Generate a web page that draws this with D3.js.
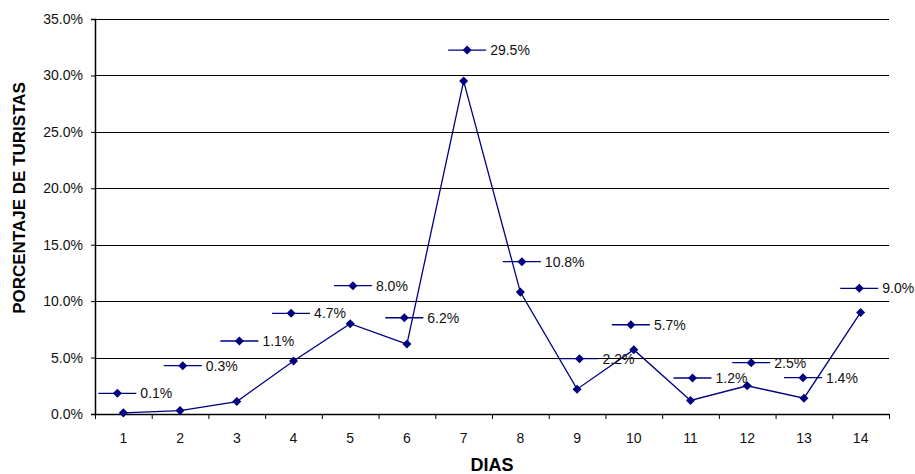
<!DOCTYPE html>
<html>
<head>
<meta charset="utf-8">
<script src="https://cdn.jsdelivr.net/npm/d3@7"></script>
<style>
  body { margin: 0; background: #fff; }
  svg { display: block; font-family: "Liberation Sans", Arial, sans-serif; }
</style>
</head>
<body>
<svg id="chart" width="915" height="474"></svg>
<script>
// ── Data ──
const days = [1, 2, 3, 4, 5, 6, 7, 8, 9, 10, 11, 12, 13, 14];
const percentages = [0.001, 0.003, 0.011, 0.047, 0.080, 0.062, 0.295, 0.108, 0.022, 0.057, 0.012, 0.025, 0.014, 0.090];
const yTicks = [0, 0.05, 0.10, 0.15, 0.20, 0.25, 0.30, 0.35];

// where each data label (with its legend key) was dragged to, in value units / px shift
const labelLevel = [0.0183, 0.0428, 0.0647, 0.0892, 0.1137, 0.0853, 0.3225, 0.1350, 0.0490, 0.0791, 0.0319, 0.0455, 0.0322, 0.1114];
const labelShift = [-6, 2.7, 2.6, -2.4, 2.7, -2.6, 3.5, 1.5, 2.4, -2.9, 2, 4, -1, -1.4];

const color = "#000080";
const width = 915, height = 474;
const margin = { top: 19, right: 26, bottom: 60, left: 95 };

const svg = d3.select("#chart");

const x = d3.scaleBand()
  .domain(days)
  .range([margin.left, width - margin.right])
  .padding(0);

const y = d3.scaleLinear()
  .domain([0, 0.35])
  .range([height - margin.bottom, margin.top]);

const cx = (d) => x(d) + x.bandwidth() / 2;

// ── Gridlines ──
svg.append("g")
  .selectAll("line")
  .data(yTicks)
  .join("line")
  .attr("x1", margin.left)
  .attr("x2", width - margin.right)
  .attr("y1", (d) => Math.round(y(d)) + 0.5)
  .attr("y2", (d) => Math.round(y(d)) + 0.5)
  .attr("stroke", "#000")
  .attr("stroke-width", 1);

// ── Y axis ──
const yAxis = svg.append("g")
  .attr("transform", `translate(${margin.left},0)`)
  .call(d3.axisLeft(y).tickValues(yTicks).tickFormat(d3.format(".1%")).tickSize(4).tickPadding(8));
yAxis.select(".domain").attr("stroke", "#000").attr("stroke-width", 1.5);
yAxis.selectAll(".tick line").attr("stroke", "#000");
yAxis.selectAll("text").attr("font-size", 14).attr("fill", "#111").attr("font-family", null);

// ── X axis: tick marks on category borders, labels in the middle ──
const edge = d3.scaleLinear().domain([0, days.length]).range(x.range());
const xTicks = svg.append("g")
  .attr("transform", `translate(0,${height - margin.bottom})`)
  .call(d3.axisBottom(edge).ticks(days.length).tickFormat("").tickSize(5).tickSizeOuter(0));
xTicks.select(".domain").attr("stroke", "#000").attr("stroke-width", 1.5);
xTicks.selectAll(".tick line").attr("stroke", "#000");

const xLabels = svg.append("g")
  .attr("transform", `translate(0,${height - margin.bottom})`)
  .call(d3.axisBottom(x).tickSize(0).tickPadding(19));
xLabels.select(".domain").remove();
xLabels.selectAll("text").attr("font-size", 14).attr("fill", "#111").attr("font-family", null);

// ── Axis titles ──
svg.append("text")
  .attr("x", (margin.left + width - margin.right) / 2)
  .attr("y", 471)
  .attr("text-anchor", "middle")
  .attr("font-size", 18)
  .attr("font-weight", "bold")
  .text("DIAS");

svg.append("clipPath").attr("id", "ytitle-clip")
  .append("rect").attr("x", 0).attr("y", 81).attr("width", 60).attr("height", 393);

svg.append("g")
  .attr("clip-path", "url(#ytitle-clip)")
  .append("text")
  .attr("transform", "translate(25,198) rotate(-90)")
  .attr("text-anchor", "middle")
  .attr("font-size", 17)
  .attr("font-weight", "bold")
  .text("PORCENTAJE DE TURISTAS");

// ── Series line + markers ──
const diamond = d3.symbol().type(d3.symbolDiamond2).size(52);

svg.append("path")
  .datum(days)
  .attr("fill", "none")
  .attr("stroke", color)
  .attr("stroke-width", 1.3)
  .attr("d", d3.line().x((d) => cx(d)).y((d, i) => y(percentages[i])));

svg.append("g")
  .selectAll("path")
  .data(days)
  .join("path")
  .attr("d", diamond)
  .attr("fill", color)
  .attr("transform", (d, i) => `translate(${cx(d)},${y(percentages[i])})`);

// ── Data labels with legend key ──
const fmt = d3.format(".1%");
const labels = svg.append("g")
  .selectAll("g")
  .data(days)
  .join("g")
  .attr("transform", (d, i) => `translate(${cx(d) + labelShift[i]},${y(labelLevel[i])})`);

labels.append("line")
  .attr("x1", -19).attr("x2", 19)
  .attr("stroke", color).attr("stroke-width", 1.3);
labels.append("path").attr("d", diamond).attr("fill", color);
labels.append("text")
  .attr("x", 23)
  .attr("dy", "0.36em")
  .attr("font-size", 14)
  .attr("fill", "#111")
  .text((d, i) => fmt(percentages[i]));
</script>
</body>
</html>
